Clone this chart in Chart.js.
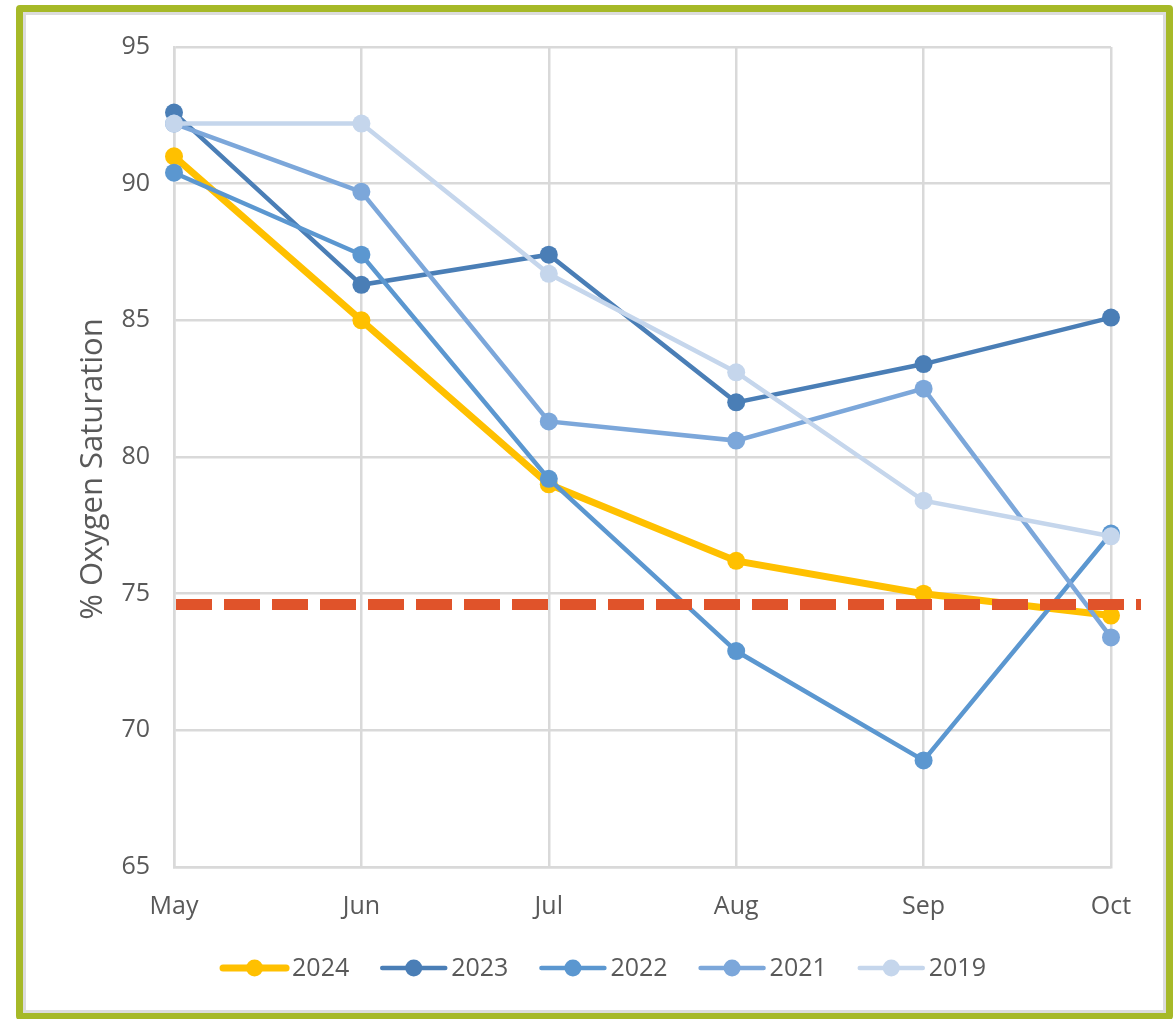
<!DOCTYPE html>
<html>
<head>
<meta charset="utf-8">
<title>% Oxygen Saturation</title>
<script src="https://cdn.jsdelivr.net/npm/chart.js@4/dist/chart.umd.min.js"></script>
<style>
  html, body { margin: 0; padding: 0; background: #ffffff; }
  #wrap { position: relative; width: 1175px; height: 1019px; overflow: hidden; }
  #frame {
    position: absolute; left: 16px; top: 5px; width: 1157px; height: 1015px;
    box-sizing: border-box; border: 7px solid #A6B928; border-radius: 4px;
    box-shadow: inset 0 0 0 3px #DCDCDC; pointer-events: none;
  }
  canvas { position: absolute; left: 0; top: 0; }
</style>
</head>
<body>
<div id="wrap">
  <canvas id="chart" width="1175" height="1019"></canvas>
  <div id="frame"></div>
</div>
<script>
// Monthly average oxygen saturation by season
const months = ['May', 'Jun', 'Jul', 'Aug', 'Sep', 'Oct'];
const seriesNames = ['2024', '2023', '2022', '2021', '2019'];
const sat2024 = [91.0, 85.0, 79.0, 76.2, 75.0, 74.2];
const sat2023 = [92.6, 86.3, 87.4, 82.0, 83.4, 85.1];
const sat2022 = [90.4, 87.4, 79.2, 72.9, 68.9, 77.2];
const sat2021 = [92.2, 89.7, 81.3, 80.6, 82.5, 73.4];
const sat2019 = [92.2, 92.2, 86.7, 83.1, 78.4, 77.1];
const yTicks = [65, 70, 75, 80, 85, 90, 95];
const threshold = 74.6;
const yTitle = '% Oxygen Saturation';

const seriesValues = [sat2024, sat2023, sat2022, sat2021, sat2019];
const seriesColors = ['#FFC000', '#4A7EB6', '#5B97D0', '#7CA7DA', '#C5D6EC'];
const seriesWidths = [7, 4.5, 4.5, 4.5, 4.5];

const textColor = '#595959';
const gridColor = '#D9D9D9';
const fontFamily = '"Open Sans", "DejaVu Sans", sans-serif';

Chart.defaults.font.family = fontFamily;
Chart.defaults.color = textColor;

const datasets = seriesNames.map((name, i) => ({
  label: name,
  data: seriesValues[i],
  borderColor: seriesColors[i],
  backgroundColor: seriesColors[i],
  pointBackgroundColor: seriesColors[i],
  pointBorderWidth: 0,
  pointRadius: 9,
  borderWidth: seriesWidths[i],
  tension: 0,
  fill: false,
  // later seasons are painted on top of earlier ones
  order: seriesNames.length - i
}));

// dashed reference level across the plot
const thresholdLine = {
  id: 'thresholdLine',
  afterDatasetsDraw(chart) {
    const { ctx, chartArea, scales } = chart;
    const y = scales.y.getPixelForValue(threshold);
    ctx.save();
    ctx.strokeStyle = '#E0532A';
    ctx.lineWidth = 11;
    ctx.setLineDash([36, 12]);
    ctx.beginPath();
    ctx.moveTo(chartArea.left + 2, y);
    ctx.lineTo(chartArea.right + 30, y);
    ctx.stroke();
    ctx.restore();
  }
};

// vertical axis title
const axisTitle = {
  id: 'axisTitle',
  afterDraw(chart) {
    const { ctx, chartArea } = chart;
    ctx.save();
    ctx.translate(chartArea.left - 81, (chartArea.top + chartArea.bottom) / 2 + 12);
    ctx.rotate(-Math.PI / 2);
    ctx.font = '31px ' + fontFamily;
    ctx.fillStyle = textColor;
    ctx.textAlign = 'center';
    ctx.textBaseline = 'middle';
    ctx.fillText(yTitle, 0, 0);
    ctx.restore();
  }
};

// legend: line with a round marker, followed by the series name
const lineLegend = {
  id: 'lineLegend',
  afterDraw(chart) {
    const { ctx } = chart;
    const lineLen = 67, gapText = 4, gapItem = 31;
    ctx.save();
    ctx.font = '25px ' + fontFamily;
    const items = chart.data.datasets.map(ds => ({
      ds, w: lineLen + gapText + ctx.measureText(ds.label).width
    }));
    const total = items.reduce((s, it) => s + it.w, 0) + gapItem * (items.length - 1);
    let x = chart.width / 2 + 16 - total / 2;
    const y = 968;
    items.forEach(({ ds, w }) => {
      ctx.strokeStyle = ds.borderColor;
      ctx.lineWidth = ds.borderWidth;
      ctx.lineCap = 'round';
      ctx.beginPath();
      ctx.moveTo(x + 2, y);
      ctx.lineTo(x + lineLen - 2, y);
      ctx.stroke();
      ctx.fillStyle = ds.borderColor;
      ctx.beginPath();
      ctx.arc(x + lineLen / 2, y, 8.5, 0, Math.PI * 2);
      ctx.fill();
      ctx.fillStyle = textColor;
      ctx.textAlign = 'left';
      ctx.textBaseline = 'middle';
      ctx.fillText(ds.label, x + lineLen + gapText, y + 1);
      x += w + gapItem;
    });
    ctx.restore();
  }
};

new Chart(document.getElementById('chart'), {
  type: 'line',
  data: { labels: months, datasets },
  options: {
    responsive: false,
    animation: false,
    devicePixelRatio: 1,
    layout: { padding: { left: 0, top: 47, right: 64, bottom: 92 } },
    plugins: {
      legend: { display: false },
      tooltip: { enabled: false }
    },
    scales: {
      x: {
        type: 'category',
        offset: false,
        afterFit(scale) { scale.height = 60; },
        grid: { color: gridColor, lineWidth: 2.5, drawTicks: false },
        border: { color: gridColor, width: 2.5 },
        ticks: { font: { size: 25 }, color: textColor, padding: 25, maxRotation: 0 }
      },
      y: {
        min: yTicks[0],
        max: yTicks[yTicks.length - 1],
        afterFit(scale) { scale.width = 174; },
        afterBuildTicks(scale) { scale.ticks = yTicks.map(v => ({ value: v })); },
        grid: { color: gridColor, lineWidth: 2.5, drawTicks: false },
        border: { color: gridColor, width: 2.5 },
        ticks: { font: { size: 25 }, color: textColor, padding: 24 }
      }
    }
  },
  plugins: [thresholdLine, axisTitle, lineLegend]
});
</script>
</body>
</html>
